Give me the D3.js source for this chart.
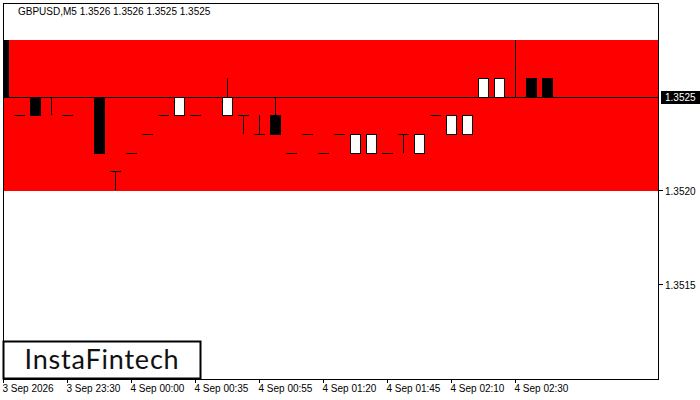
<!DOCTYPE html>
<html><head><meta charset="utf-8">
<script src="https://cdn.jsdelivr.net/npm/d3@7"></script>
<style>body{margin:0;background:#fff}svg{display:block}text{font-family:"Liberation Sans",sans-serif}</style>
</head><body><svg id="c" width="700" height="400"></svg>
<script>
const opens  = [1.3528,1.3524,1.3525,1.3525,1.3524,1.3525,1.3525,1.3521,1.3522,1.3523,1.3524,1.3524,1.3524,1.3525,1.3524,1.3524,1.3523,1.3524,1.3522,1.3523,1.3522,1.3523,1.3522,1.3522,1.3522,1.3523,1.3522,1.3524,1.3523,1.3523,1.3525,1.3525,1.3525,1.3526,1.3526];
const highs  = [1.3528,1.3524,1.3525,1.3525,1.3524,1.3525,1.3525,1.3521,1.3522,1.3523,1.3524,1.3525,1.3524,1.3525,1.3526,1.3524,1.3524,1.3525,1.3522,1.3523,1.3522,1.3523,1.3523,1.3523,1.3522,1.3523,1.3523,1.3524,1.3524,1.3524,1.3526,1.3526,1.3528,1.3526,1.3526];
const lows   = [1.3525,1.3524,1.3524,1.3524,1.3524,1.3525,1.3522,1.3520,1.3522,1.3523,1.3524,1.3524,1.3524,1.3525,1.3524,1.3523,1.3523,1.3523,1.3522,1.3523,1.3522,1.3523,1.3522,1.3522,1.3522,1.3522,1.3522,1.3524,1.3523,1.3523,1.3525,1.3525,1.3525,1.3525,1.3525];
const closes = [1.3525,1.3524,1.3524,1.3525,1.3524,1.3525,1.3522,1.3521,1.3522,1.3523,1.3524,1.3525,1.3524,1.3525,1.3525,1.3524,1.3523,1.3523,1.3522,1.3523,1.3522,1.3523,1.3523,1.3523,1.3522,1.3523,1.3523,1.3524,1.3524,1.3524,1.3526,1.3526,1.3525,1.3525,1.3525];
const tickIdx = [0,4,8,12,16,20,24,28,32];
const tickLabels = ["3 Sep 2026","3 Sep 23:30","4 Sep 00:00","4 Sep 00:35","4 Sep 00:55","4 Sep 01:20","4 Sep 01:45","4 Sep 02:10","4 Sep 02:30"];
const priceTicks = [1.3520,1.3515];
const zone = [1.3520,1.3528];
const current = 1.3525;
const title = "GBPUSD,M5  1.3526 1.3526 1.3525 1.3525";

const L=3,R=659,T=3,B=379;
const svg=d3.select("#c");
const x=d3.scaleLinear().domain([0,1]).range([3,19]);
const y=d3.scaleLinear().domain([1.35099,1.35300]).range([B,T]);
const g=svg.append("g");
svg.append("clipPath").attr("id","pc").append("rect").attr("x",L).attr("y",T).attr("width",R-L).attr("height",B-T);
const p=g.append("g").attr("clip-path","url(#pc)");
p.append("rect").attr("x",L).attr("width",R-L).attr("y",Math.round(y(zone[1]))).attr("height",Math.round(y(zone[0]))-Math.round(y(zone[1]))+1).attr("fill","#ff0000");
p.append("line").attr("x1",L).attr("x2",R).attr("y1",Math.round(y(current))+0.5).attr("y2",Math.round(y(current))+0.5).attr("stroke","#000");
const bw=11;
opens.forEach((o,i)=>{
  const cx=Math.round(x(i))+0.5,c=closes[i];
  const yh=Math.round(y(highs[i])),yl=Math.round(y(lows[i]));
  if(yl>yh) p.append("line").attr("x1",cx).attr("x2",cx).attr("y1",yh).attr("y2",yl).attr("stroke","#000");
  const yo=Math.round(y(o)),yc=Math.round(y(c));
  if(yo===yc){
    p.append("line").attr("x1",cx-5.5).attr("x2",cx+5.5).attr("y1",yo+0.5).attr("y2",yo+0.5).attr("stroke","#000");
  } else {
    const top=Math.min(yo,yc),h=Math.abs(yo-yc);
    p.append("rect").attr("x",cx-5).attr("y",top+0.5).attr("width",bw-1).attr("height",h)
     .attr("fill",c>o?"#fff":"#000").attr("stroke","#000");
  }
});
g.append("rect").attr("x",L+0.5).attr("y",T+0.5).attr("width",R-L-1).attr("height",B-T).attr("fill","none").attr("stroke","#000");
tickIdx.forEach((ti,k)=>{
  const tx=Math.round(x(ti))+0.5;
  g.append("line").attr("x1",tx).attr("x2",tx).attr("y1",B).attr("y2",B+4).attr("stroke","#000");
  g.append("text").attr("x",tx-1).attr("y",392).attr("font-size",10).text(tickLabels[k]);
});
priceTicks.forEach(v=>{
  const ty=Math.round(y(v))+0.5;
  g.append("line").attr("x1",R).attr("x2",R+4).attr("y1",ty).attr("y2",ty).attr("stroke","#000");
  g.append("text").attr("x",665).attr("y",ty+4).attr("font-size",10).text(v.toFixed(4));
});
const cy=Math.round(y(current));
g.append("rect").attr("x",661).attr("y",cy-6).attr("width",39).attr("height",13).attr("fill","#000");
g.append("text").attr("x",665).attr("y",cy+4).attr("font-size",10).attr("fill","#fff").text(current.toFixed(4));
g.append("text").attr("x",18).attr("y",15).attr("font-size",10).text(title);
g.append("rect").attr("x",3.5).attr("y",341.5).attr("width",197).attr("height",37).attr("fill","#fff").attr("stroke","#000").attr("stroke-width",2);
g.append("text").attr("x",102).attr("y",369).attr("text-anchor","middle").attr("font-size",27).style("font-family","Lato, sans-serif").attr("letter-spacing",0.8).attr("fill","#111").text("InstaFintech");
</script></body></html>
